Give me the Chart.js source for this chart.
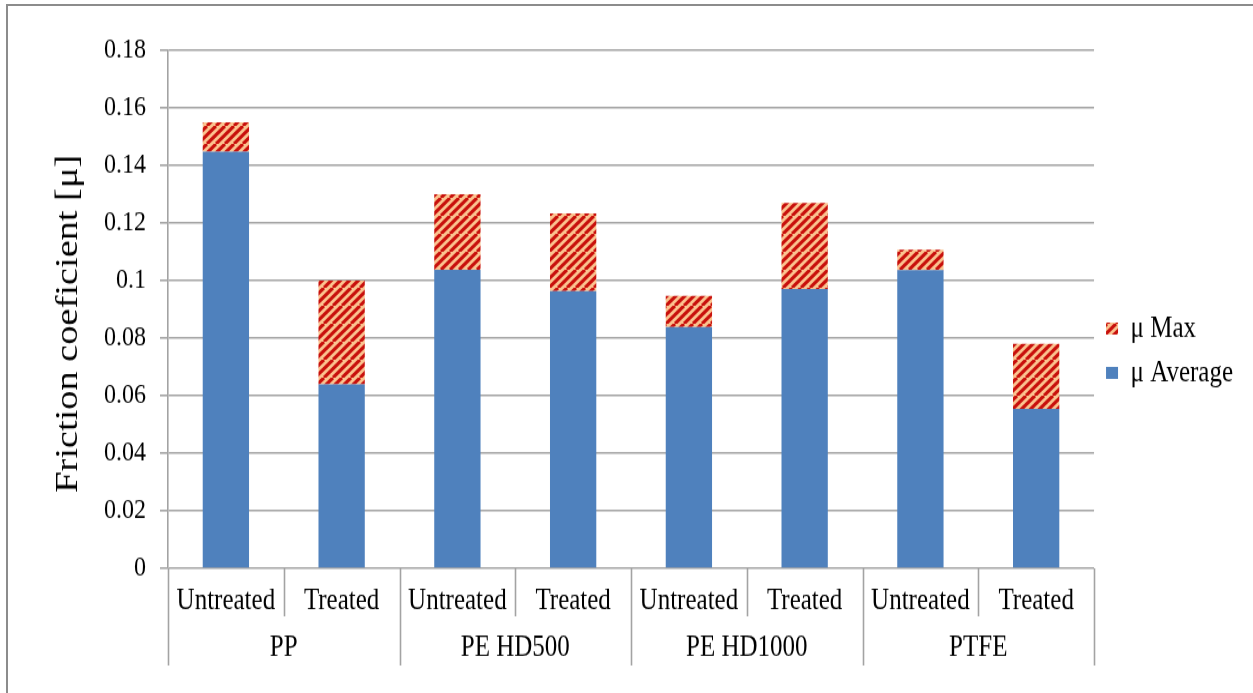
<!DOCTYPE html>
<html>
<head>
<meta charset="utf-8">
<script src="https://cdn.jsdelivr.net/npm/chart.js@4/dist/chart.umd.min.js"></script>
<style>
  html, body { margin: 0; padding: 0; background: #fff; overflow: hidden; }
  #frame {
    position: absolute; left: 6px; top: 4px; width: 1247px; height: 689px;
    border-top: 2px solid #8c8c8c; border-left: 2px solid #8c8c8c;
    box-sizing: border-box;
  }
  /* the chart is drawn on a shorter canvas and stretched to full height */
  #wrap {
    position: absolute; left: 0; top: 0; width: 1253px; height: 578px;
    transform-origin: 0 0; transform: scaleY(1.199);
  }
  #c { display: block; }
</style>
</head>
<body>
<div id="frame"></div>
<div id="wrap"><canvas id="c" width="1253" height="578"></canvas></div>
<script>
// Friction coefficient per material and surface treatment
const treatments = ['Untreated', 'Treated', 'Untreated', 'Treated', 'Untreated', 'Treated', 'Untreated', 'Treated'];
const materials = ['PP', 'PE HD500', 'PE HD1000', 'PTFE'];
const muAverage = [0.1448, 0.0640, 0.1038, 0.0964, 0.0839, 0.0971, 0.1036, 0.0554];
const muMax = [0.1550, 0.1000, 0.1300, 0.1233, 0.0947, 0.1270, 0.1107, 0.0780];
const yTicks = [0, 0.02, 0.04, 0.06, 0.08, 0.1, 0.12, 0.14, 0.16, 0.18];

const FONT = '"Liberation Serif", "Times New Roman", serif';
const GRID = '#a3a3a3';

// Diagonal red hatch on a peach ground (tile is squashed to offset the vertical stretch)
function hatchPattern() {
  const w = 18, h = 15;
  const t = document.createElement('canvas');
  t.width = w; t.height = h;
  const g = t.getContext('2d');
  g.fillStyle = '#fbc490';
  g.fillRect(0, 0, w, h);
  g.strokeStyle = '#c8100c';
  g.lineWidth = 3;
  g.beginPath();
  for (let k = -3; k <= 3; k++) {
    g.moveTo(k * 9, h);
    g.lineTo(k * 9 + w, 0);
  }
  g.stroke();
  return g.createPattern(t, 'repeat');
}

// The hatched segment spans from the average up to the maximum
const maxSegment = muMax.map((m, i) => +(m - muAverage[i]).toFixed(4));

// Category separators below the plot (two-level axis)
const separators = {
  id: 'separators',
  afterDraw(chart) {
    const x = chart.scales.x, x2 = chart.scales.x2;
    const ctx = chart.ctx;
    const half = (x.getPixelForValue(1) - x.getPixelForValue(0)) / 2;
    ctx.save();
    ctx.strokeStyle = GRID;
    ctx.lineWidth = 1.6;
    for (let i = 0; i <= treatments.length; i++) {
      const px = Math.round(x.getPixelForValue(i) - half) + 0.5;
      const bottom = (i % 2 === 0) ? x2.bottom : x.bottom;
      ctx.beginPath();
      ctx.moveTo(px, chart.chartArea.bottom);
      ctx.lineTo(px, bottom);
      ctx.stroke();
    }
    ctx.restore();
  }
};

new Chart(document.getElementById('c'), {
  type: 'bar',
  data: {
    labels: treatments,
    datasets: [
      {
        label: 'μ Average',
        data: muAverage,
        backgroundColor: '#4f81bd',
        borderWidth: 0,
        barPercentage: 0.4,
        categoryPercentage: 1.0,
        xAxisID: 'x'
      },
      {
        label: 'μ Max',
        data: maxSegment,
        backgroundColor: hatchPattern(),
        borderWidth: 0,
        barPercentage: 0.4,
        categoryPercentage: 1.0,
        xAxisID: 'x'
      }
    ]
  },
  options: {
    responsive: false,
    animation: false,
    layout: { padding: { left: 8, top: 30, right: 10, bottom: 23 } },
    plugins: {
      tooltip: { enabled: false },
      legend: {
        position: 'right',
        reverse: true,
        labels: {
          font: { family: FONT, size: 25 },
          color: '#000',
          boxWidth: 12,
          boxHeight: 10,
          padding: 12
        }
      }
    },
    scales: {
      // empty strip above the plot area
      xTop: {
        type: 'linear',
        position: 'top',
        display: true,
        ticks: { display: false },
        grid: { display: false, drawTicks: false },
        border: { display: false },
        afterFit(s) { s.height = 12; }
      },
      x: {
        stacked: true,
        position: 'bottom',
        grid: { display: false, drawTicks: false },
        border: { display: false },
        ticks: { font: { family: FONT, size: 25 }, color: '#000', padding: 12, maxRotation: 0, autoSkip: false },
        afterFit(s) { s.height = 40; }
      },
      x2: {
        type: 'category',
        labels: materials,
        position: 'bottom',
        offset: true,
        grid: { display: false, drawTicks: false },
        border: { display: false },
        ticks: { font: { family: FONT, size: 25 }, color: '#000', padding: 11, maxRotation: 0, autoSkip: false },
        afterFit(s) { s.height = 41; }
      },
      y: {
        stacked: true,
        min: 0,
        max: 0.18,
        afterBuildTicks(s) { s.ticks = yTicks.map(v => ({ value: v })); },
        grid: { color: GRID, lineWidth: 1.6, tickLength: 8, drawTicks: true },
        border: { color: GRID, width: 1.6 },
        ticks: {
          font: { family: FONT, size: 24 },
          color: '#000',
          padding: 14,
          callback: v => String(+v.toFixed(2))
        },
        title: {
          display: true,
          text: 'Friction coeficient [μ]   ',
          font: { family: FONT, size: 32 },
          color: '#000',
          padding: { top: 41, bottom: 0 }
        },
        afterFit(s) { s.width = 160; }
      }
    }
  },
  plugins: [separators]
});
</script>
</body>
</html>
